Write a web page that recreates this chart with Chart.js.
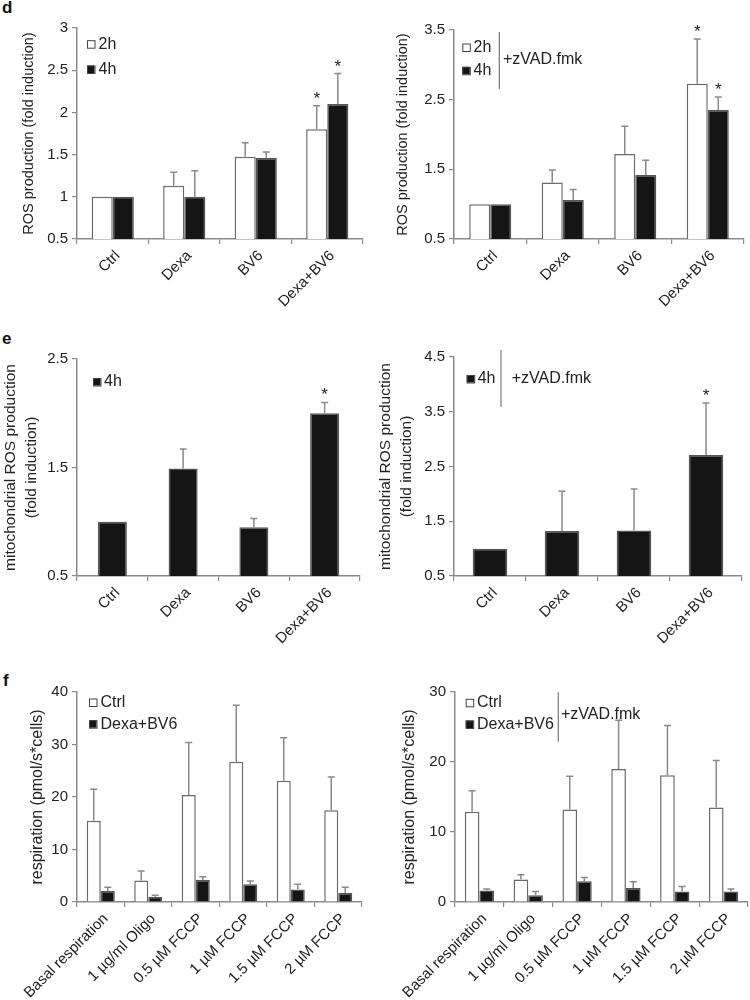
<!DOCTYPE html>
<html><head><meta charset="utf-8">
<script src="https://cdn.jsdelivr.net/npm/chart.js@4.4.1/dist/chart.umd.min.js"></script>
<style>
html,body{margin:0;padding:0;background:#fff}
body{width:750px;height:1000px;position:relative;overflow:hidden;font-family:'Liberation Sans',Arial,sans-serif}
canvas{position:absolute;display:block}
.lab{position:absolute;font-weight:bold;font-size:17px;line-height:17px;color:#111}
</style></head>
<body>
<div class="lab" style="left:2px;top:-1px">d</div>
<div class="lab" style="left:2px;top:330px">e</div>
<div class="lab" style="left:3px;top:672px">f</div>
<canvas id="dL" width="375" height="340" style="left:0;top:0"></canvas>
<canvas id="dR" width="375" height="340" style="left:375px;top:0"></canvas>
<canvas id="eL" width="375" height="320" style="left:0;top:340px"></canvas>
<canvas id="eR" width="375" height="320" style="left:375px;top:340px"></canvas>
<canvas id="fL" width="375" height="340" style="left:0;top:660px"></canvas>
<canvas id="fR" width="375" height="340" style="left:375px;top:660px"></canvas>
<script>
// ---------------- DATA ----------------
const rosCats = ['Ctrl', 'Dexa', 'BV6', 'Dexa+BV6'];
const starDexaBV6 = [false, false, false, true];

// d, left: ROS production
const dL_2h = [1.00, 1.13, 1.475, 1.80];
const dL_2h_err = [0, 0.16, 0.165, 0.28];
const dL_4h = [1.00, 1.00, 1.46, 2.10];
const dL_4h_err = [0, 0.31, 0.07, 0.36];
const dL_yTicks = [0.5, 1, 1.5, 2, 2.5, 3];

// d, right: ROS production + zVAD.fmk
const dR_2h = [1.00, 1.31, 1.72, 2.73];
const dR_2h_err = [0, 0.18, 0.40, 0.64];
const dR_4h = [1.00, 1.06, 1.42, 2.35];
const dR_4h_err = [0, 0.15, 0.21, 0.19];
const dR_yTicks = [0.5, 1.5, 2.5, 3.5];

// e, left: mitochondrial ROS
const eL_4h = [1.00, 1.49, 0.95, 2.00];
const eL_4h_err = [0, 0.18, 0.08, 0.10];
const eL_yTicks = [0.5, 1.5, 2.5];

// e, right: mitochondrial ROS + zVAD.fmk
const eR_4h = [1.00, 1.32, 1.33, 2.71];
const eR_4h_err = [0, 0.73, 0.76, 0.95];
const eR_yTicks = [0.5, 1.5, 2.5, 3.5, 4.5];

// f: respiration
const respCats = ['Basal respiration', '1 \u00b5g/ml Oligo', '0.5 \u00b5M FCCP', '1 \u00b5M FCCP', '1.5 \u00b5M FCCP', '2 \u00b5M FCCP'];
const fL_ctrl = [15.5, 4.1, 20.4, 26.7, 23.1, 17.5];
const fL_ctrl_err = [6.0, 1.8, 10.0, 10.8, 8.2, 6.3];
const fL_db = [2.1, 1.0, 4.2, 3.4, 2.4, 1.7];
const fL_db_err = [0.7, 0.3, 0.6, 0.6, 1.0, 1.1];
const fL_yTicks = [0, 10, 20, 30, 40];

const fR_ctrl = [12.9, 3.2, 13.2, 19.0, 18.1, 13.5];
const fR_ctrl_err = [3.0, 0.7, 4.75, 6.95, 7.1, 6.7];
const fR_db = [1.65, 0.95, 2.95, 2.0, 1.5, 1.5];
const fR_db_err = [0.2, 0.55, 0.55, 0.9, 0.7, 0.35];
const fR_yTicks = [0, 10, 20, 30];

// ---------------- STYLE ----------------
const FONT = "'Liberation Sans', Arial, sans-serif";
const TXT = '#222';
const AXIS = '#8a8a8a';
const DARK = '#151515';
const ERR = '#8a8a8a';

const errorPlugin = {
  id: 'errbars',
  afterDatasetsDraw(chart) {
    const ctx = chart.ctx;
    const ys = chart.scales.y;
    chart.data.datasets.forEach((ds, di) => {
      const meta = chart.getDatasetMeta(di);
      meta.data.forEach((bar, i) => {
        const e = ds.errors ? ds.errors[i] : 0;
        const top = ys.getPixelForValue(ds.data[i] + e);
        ctx.save();
        if (e > 0) {
          ctx.strokeStyle = ERR;
          ctx.lineWidth = 1.5;
          ctx.beginPath();
          ctx.moveTo(bar.x, bar.y);
          ctx.lineTo(bar.x, top);
          ctx.moveTo(bar.x - 3.5, top);
          ctx.lineTo(bar.x + 3.5, top);
          ctx.stroke();
        }
        if (ds.stars && ds.stars[i]) {
          ctx.fillStyle = TXT;
          ctx.font = '17px ' + FONT;
          ctx.textAlign = 'center';
          ctx.textBaseline = 'alphabetic';
          ctx.fillText('*', bar.x, top - 2);
        }
        ctx.restore();
      });
    });
  }
};

function legendPlugin(p) {
  return {
    id: 'lg',
    afterDraw(chart) {
      const ctx = chart.ctx;
      ctx.save();
      p.series.forEach((s, i) => {
        const cy = p.legend.ys[i];
        ctx.fillStyle = s.dark ? DARK : '#fff';
        ctx.fillRect(p.legend.x, cy - 3.5, 7.5, 7.5);
        ctx.strokeStyle = '#444';
        ctx.lineWidth = 1;
        ctx.strokeRect(p.legend.x + 0.5, cy - 3.5 + 0.5, 7.5, 7.5);
        ctx.fillStyle = TXT;
        ctx.font = '16px ' + FONT;
        ctx.textAlign = 'left';
        ctx.textBaseline = 'middle';
        ctx.fillText(s.name, p.legend.tx, cy + 0.5);
      });
      if (p.zvad) {
        ctx.strokeStyle = '#777';
        ctx.lineWidth = 1.2;
        ctx.beginPath();
        ctx.moveTo(p.zvad.lx, p.zvad.y0);
        ctx.lineTo(p.zvad.lx, p.zvad.y1);
        ctx.stroke();
        ctx.fillStyle = TXT;
        ctx.font = '16px ' + FONT;
        ctx.textAlign = 'left';
        ctx.textBaseline = 'middle';
        ctx.fillText('+zVAD.fmk', p.zvad.tx, p.zvad.ty);
      }
      ctx.restore();
    }
  };
}

function makePanel(p) {
  const canvas = document.getElementById(p.id);
  const datasets = p.series.map(s => ({
    label: s.name,
    data: s.values,
    errors: s.errors,
    stars: s.stars || null,
    backgroundColor: s.dark ? DARK : '#ffffff',
    borderColor: s.dark ? '#555' : '#6a6a6a',
    borderWidth: 1.5,
    borderSkipped: 'start',
    categoryPercentage: p.catPct,
    barPercentage: 1.0
  }));
  const yt = p.yTicks;
  new Chart(canvas, {
    type: 'bar',
    data: { labels: p.labels, datasets },
    options: {
      responsive: false,
      animation: false,
      devicePixelRatio: 1,
      layout: { padding: { left: 0, top: p.area.top, right: p.w - p.area.right, bottom: 0 } },
      plugins: { legend: { display: false }, tooltip: { enabled: false }, title: { display: false } },
      scales: {
        x: {
          grid: { display: true, offset: true, drawOnChartArea: false, drawTicks: true, tickLength: 5, color: AXIS, lineWidth: 1.2 },
          border: { display: true, color: AXIS, width: 1.5 },
          ticks: { font: { family: FONT, size: 15 }, color: TXT, minRotation: 45, maxRotation: 45, autoSkip: false, padding: 3, labelOffset: 5 },
          afterFit: s => { s.height = p.h - p.area.bottom; }
        },
        y: {
          min: yt[0],
          max: yt[yt.length - 1],
          afterBuildTicks: s => { s.ticks = yt.map(v => ({ value: v })); },
          grid: { display: true, drawOnChartArea: false, drawTicks: true, tickLength: 5, color: AXIS, lineWidth: 1.2 },
          border: { display: true, color: AXIS, width: 1.5 },
          ticks: { font: { family: FONT, size: 15 }, color: TXT, padding: 4, callback: v => String(v) },
          title: {
            display: true, text: p.title, color: TXT,
            font: { family: FONT, size: p.titleSize, lineHeight: p.titleLH },
            padding: { top: p.titlePad, bottom: 0 }
          },
          afterFit: s => { s.width = p.area.left; }
        }
      }
    },
    plugins: [errorPlugin, legendPlugin(p)]
  });
}

makePanel({
  id: 'dL', w: 375, h: 340, area: { left: 77, top: 28, right: 363, bottom: 239 },
  labels: rosCats, yTicks: dL_yTicks, catPct: 0.59,
  title: 'ROS production (fold induction)', titleSize: 14.5, titleLH: 1.2, titlePad: 20,
  series: [
    { name: '2h', values: dL_2h, errors: dL_2h_err, stars: starDexaBV6, dark: false },
    { name: '4h', values: dL_4h, errors: dL_4h_err, stars: starDexaBV6, dark: true }
  ],
  legend: { x: 87, tx: 98.5, ys: [43.7, 69] }
});

makePanel({
  id: 'dR', w: 375, h: 340, area: { left: 79, top: 30, right: 369, bottom: 239 },
  labels: rosCats, yTicks: dR_yTicks, catPct: 0.58,
  title: 'ROS production (fold induction)', titleSize: 14.5, titleLH: 1.2, titlePad: 19,
  series: [
    { name: '2h', values: dR_2h, errors: dR_2h_err, stars: starDexaBV6, dark: false },
    { name: '4h', values: dR_4h, errors: dR_4h_err, stars: starDexaBV6, dark: true }
  ],
  legend: { x: 87.3, tx: 98.5, ys: [47, 70.3] },
  zvad: { lx: 124.3, y0: 32, y1: 89, tx: 128, ty: 60 }
});

makePanel({
  id: 'eL', w: 375, h: 320, area: { left: 77, top: 19, right: 360, bottom: 236 },
  labels: rosCats, yTicks: eL_yTicks, catPct: 0.41,
  title: ['mitochondrial ROS production', '(fold induction)'], titleSize: 15.5, titleLH: 1.3, titlePad: 1,
  series: [
    { name: '4h', values: eL_4h, errors: eL_4h_err, stars: starDexaBV6, dark: true }
  ],
  legend: { x: 93, tx: 104, ys: [41.5] }
});

makePanel({
  id: 'eR', w: 375, h: 320, area: { left: 79, top: 17, right: 367, bottom: 236 },
  labels: rosCats, yTicks: eR_yTicks, catPct: 0.48,
  title: ['mitochondrial ROS production', '(fold induction)'], titleSize: 15.5, titleLH: 1.3, titlePad: 1,
  series: [
    { name: '4h', values: eR_4h, errors: eR_4h_err, stars: starDexaBV6, dark: true }
  ],
  legend: { x: 91.7, tx: 102.7, ys: [38.5] },
  zvad: { lx: 126, y0: 10, y1: 66.7, tx: 136.7, ty: 39 }
});

makePanel({
  id: 'fL', w: 375, h: 340, area: { left: 77, top: 32, right: 362, bottom: 242 },
  labels: respCats, yTicks: fL_yTicks, catPct: 0.59,
  title: 'respiration (pmol/s*cells)', titleSize: 16, titleLH: 1.2, titlePad: 28,
  series: [
    { name: 'Ctrl', values: fL_ctrl, errors: fL_ctrl_err, dark: false },
    { name: 'Dexa+BV6', values: fL_db, errors: fL_db_err, dark: true }
  ],
  legend: { x: 89, tx: 100.5, ys: [42, 63.7] }
});

makePanel({
  id: 'fR', w: 375, h: 340, area: { left: 80, top: 32, right: 373, bottom: 242 },
  labels: respCats, yTicks: fR_yTicks, catPct: 0.6,
  title: 'respiration (pmol/s*cells)', titleSize: 16, titleLH: 1.2, titlePad: 25,
  series: [
    { name: 'Ctrl', values: fR_ctrl, errors: fR_ctrl_err, dark: false },
    { name: 'Dexa+BV6', values: fR_db, errors: fR_db_err, dark: true }
  ],
  legend: { x: 90.7, tx: 102, ys: [42.3, 64] },
  zvad: { lx: 183.3, y0: 32.3, y1: 81.7, tx: 186, ty: 55 }
});
</script>
</body></html>
